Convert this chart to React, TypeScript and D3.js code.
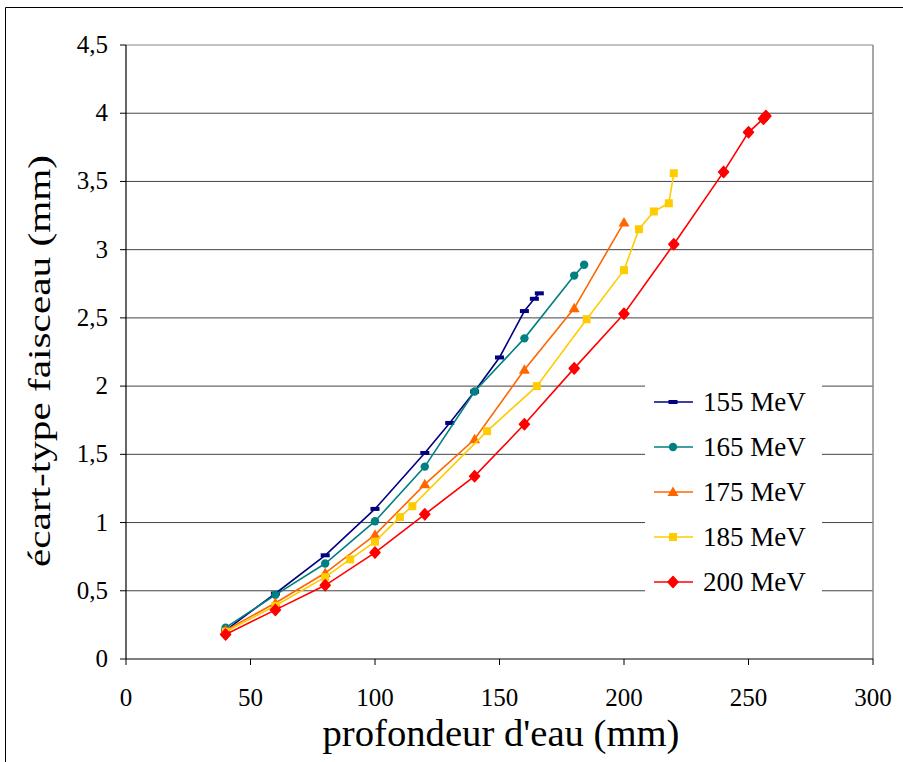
import React from "react";
import * as d3 from "d3";

const seriesNames = ["155 MeV", "165 MeV", "175 MeV", "185 MeV", "200 MeV"];
const seriesColors = ["#000080", "#008080", "#FF6600", "#FFCC00", "#FF0000"];
const seriesMarkers = ["dash", "circle", "triangle", "square", "diamond"];

const x155 = [40, 60, 80, 100, 120, 130, 140, 150, 160, 164, 166];
const y155 = [0.21, 0.48, 0.76, 1.10, 1.51, 1.73, 1.96, 2.21, 2.55, 2.64, 2.68];
const x165 = [40, 60, 80, 100, 120, 140, 160, 180, 184];
const y165 = [0.23, 0.47, 0.70, 1.01, 1.41, 1.96, 2.35, 2.81, 2.89];
const x175 = [40, 60, 80, 100, 120, 140, 160, 180, 200];
const y175 = [0.21, 0.41, 0.63, 0.91, 1.28, 1.61, 2.12, 2.57, 3.20];
const x185 = [40, 60, 80, 90, 100, 110, 115, 145, 165, 185, 200, 206, 212, 218, 220];
const y185 = [0.20, 0.39, 0.60, 0.73, 0.86, 1.04, 1.12, 1.67, 2.00, 2.49, 2.85, 3.15, 3.28, 3.34, 3.56];
const x200 = [40, 60, 80, 100, 120, 140, 160, 180, 200, 220, 240, 250, 256, 257];
const y200 = [0.18, 0.36, 0.54, 0.78, 1.06, 1.34, 1.72, 2.13, 2.53, 3.04, 3.57, 3.86, 3.96, 3.98];

const xTicks = [0, 50, 100, 150, 200, 250, 300];
const yTicks = [0, 0.5, 1, 1.5, 2, 2.5, 3, 3.5, 4, 4.5];
const xTitle = "profondeur d'eau (mm)";
const yTitle = "écart-type faisceau (mm)";

const seriesX = [x155, x165, x175, x185, x200];
const seriesY = [y155, y165, y175, y185, y200];

const W = 903, H = 762;
const L = 126, R = 873, T = 45, B = 659;
const FONT = "Liberation Serif, Tinos, Times New Roman, DejaVu Serif, serif";

function Marker({ type, x, y, color }: { type: string; x: number; y: number; color: string }) {
  switch (type) {
    case "dash":
      return <rect x={x - 4.5} y={y - 2} width={9} height={4} fill={color} />;
    case "circle":
      return <circle cx={x} cy={y} r={4.2} fill={color} />;
    case "triangle":
      return <path d={`M${x},${y - 5.5} L${x + 5.5},${y + 4} L${x - 5.5},${y + 4} Z`} fill={color} />;
    case "square":
      return <rect x={x - 4} y={y - 4} width={8} height={8} fill={color} />;
    case "diamond":
      return <path d={`M${x},${y - 5.5} L${x + 5},${y} L${x},${y + 5.5} L${x - 5},${y} Z`} fill={color} stroke={color} strokeWidth={1.5} strokeLinejoin="round" />;
    default:
      return null;
  }
}

export default function App() {
  const xs = d3.scaleLinear().domain([0, 300]).range([L, R]);
  const ys = d3.scaleLinear().domain([0, 4.5]).range([B, T]);
  const fmt = (v: number) => String(v).replace(".", ",");
  const line = d3.line<[number, number]>().x((d) => xs(d[0])).y((d) => ys(d[1]));

  const legendX = 645, legendTop = 380, legendRowH = 45;
  const ts = { fontFamily: FONT } as React.CSSProperties;

  return (
    <svg width={W} height={H} style={{ position: "absolute", left: 0, top: 0, background: "#fff" }}>
      <rect x={0} y={0} width={W} height={H} fill="#fff" />
      <path d={`M5.5,${H} L5.5,7.5 L${W},7.5`} fill="none" stroke="#000" strokeWidth={1} />
      {yTicks.filter((t) => t > 0).map((t) => (
        <line key={t} x1={L} x2={R} y1={ys(t)} y2={ys(t)} stroke={t === 4.5 ? "#888" : "#444"} strokeWidth={1} />
      ))}
      <line x1={R} x2={R} y1={T} y2={B} stroke="#888" strokeWidth={1.5} />
      <line x1={L} x2={L} y1={T} y2={B} stroke="#000" strokeWidth={1.2} />
      <line x1={L} x2={R} y1={B} y2={B} stroke="#000" strokeWidth={1.2} />
      {yTicks.map((t) => (
        <g key={t}>
          <line x1={L - 6} x2={L} y1={ys(t)} y2={ys(t)} stroke="#000" />
          <text x={L - 18} y={ys(t) + 8} textAnchor="end" style={ts} fontSize={25}>{fmt(t)}</text>
        </g>
      ))}
      {xTicks.map((t) => (
        <g key={t}>
          <line x1={xs(t)} x2={xs(t)} y1={B} y2={B + 6} stroke="#000" />
          <text x={xs(t)} y={706} textAnchor="middle" style={ts} fontSize={25}>{t}</text>
        </g>
      ))}
      {seriesNames.map((name, i) => {
        const pts = seriesX[i].map((xv, j) => [xv, seriesY[i][j]] as [number, number]);
        return (
          <g key={name}>
            <path d={line(pts) || ""} fill="none" stroke={seriesColors[i]} strokeWidth={1.6} />
            {pts.map((p, j) => (
              <Marker key={j} type={seriesMarkers[i]} x={xs(p[0])} y={ys(p[1])} color={seriesColors[i]} />
            ))}
          </g>
        );
      })}
      <rect x={legendX} y={legendTop} width={177} height={222} fill="#fff" />
      {seriesNames.map((name, i) => {
        const cy = 402 + i * legendRowH;
        return (
          <g key={name}>
            <line x1={654} x2={693} y1={cy} y2={cy} stroke={seriesColors[i]} strokeWidth={1.6} />
            <Marker type={seriesMarkers[i]} x={673} y={cy} color={seriesColors[i]} />
            <text x={703} y={cy + 9} style={ts} fontSize={27}>{name}</text>
          </g>
        );
      })}
      <text x={501} y={746} textAnchor="middle" style={ts} fontSize={38} textLength={357} lengthAdjust="spacingAndGlyphs">{xTitle}</text>
      <text transform={`translate(50,361) rotate(-90)`} textAnchor="middle" style={ts} fontSize={32} textLength={412} lengthAdjust="spacingAndGlyphs">{yTitle}</text>
    </svg>
  );
}
